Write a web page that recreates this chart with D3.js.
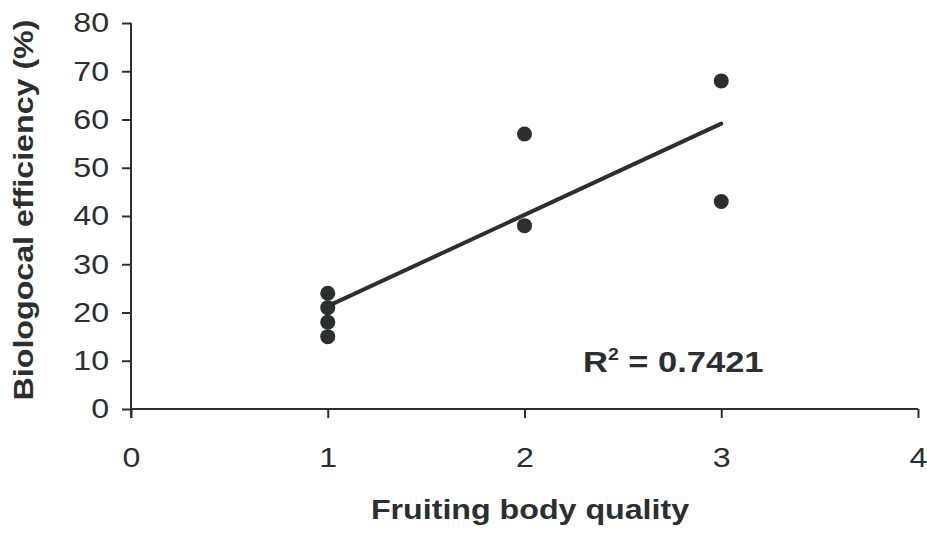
<!DOCTYPE html>
<html>
<head>
<meta charset="utf-8">
<script src="https://cdn.jsdelivr.net/npm/d3@7"></script>
<style>
  body { margin: 0; background: #fff; }
  text { font-family: "Liberation Sans", Arial, sans-serif; fill: #2b2f2f; }
</style>
</head>
<body>
<svg id="chart" width="927" height="534"></svg>
<script>
// data
const quality = [1, 1, 1, 1, 2, 2, 3, 3];
const efficiency = [24, 21, 18, 15, 57, 38, 68, 43];
const xTicks = [0, 1, 2, 3, 4];
const yTicks = [0, 10, 20, 30, 40, 50, 60, 70, 80];

const ink = "#2b2f2f";
const stretch = 1.15; // the scanned font is a bit wider than Liberation
const svg = d3.select("#chart");

const x = d3.scaleLinear().domain([0, 4]).range([131, 918]);
const y = d3.scaleLinear().domain([0, 80]).range([409, 23]);

// axes
const xAxis = svg.append("g")
  .attr("transform", `translate(0,${y(0)})`)
  .call(d3.axisBottom(x).tickValues(xTicks).tickSize(9).tickPadding(29).tickFormat(d3.format("d")));
const yAxis = svg.append("g")
  .attr("transform", `translate(${x(0)},0)`)
  .call(d3.axisLeft(y).tickValues(yTicks).tickSize(9).tickPadding(10).tickFormat(d3.format("d")));

[xAxis, yAxis].forEach(g => {
  g.select(".domain").attr("stroke", ink).attr("stroke-width", 2);
  g.selectAll(".tick line").attr("stroke", ink).attr("stroke-width", 2);
  g.selectAll(".tick text")
    .attr("font-size", 28)
    .attr("transform", `scale(${stretch},1)`)
    .style("fill", ink);
});
xAxis.select(".domain").attr("d", `M${x(0)},0H${x(4)}`);
yAxis.select(".domain").attr("d", `M0,${y(0) + 9}V${y(80)}`);

// least squares line
const mx = d3.mean(quality), my = d3.mean(efficiency);
let sxx = 0, sxy = 0;
quality.forEach((q, i) => { sxx += (q - mx) ** 2; sxy += (q - mx) * (efficiency[i] - my); });
const slope = sxy / sxx, icpt = my - slope * mx;
const sst = d3.sum(efficiency, v => (v - my) ** 2);
const r2 = slope * sxy / sst;

svg.append("line")
  .attr("x1", x(1)).attr("y1", y(icpt + slope * 1))
  .attr("x2", x(3)).attr("y2", y(icpt + slope * 3))
  .attr("stroke", ink).attr("stroke-width", 4).attr("stroke-linecap", "round");

// points
svg.selectAll(".dot")
  .data(quality.map((q, i) => ({ q, v: efficiency[i] })))
  .enter()
  .append("circle")
  .attr("class", "dot")
  .attr("cx", d => x(d.q))
  .attr("cy", d => y(d.v))
  .attr("r", 7.5)
  .attr("fill", ink);

// R2 label
const r2t = svg.append("text")
  .attr("transform", `translate(583,372) scale(${stretch},1)`)
  .attr("font-size", 30).attr("font-weight", "bold");
r2t.append("tspan").text("R");
r2t.append("tspan").attr("dy", -12).attr("font-size", 17).text("2");
r2t.append("tspan").attr("dy", 12).text(" = " + r2.toFixed(4));

// axis titles
svg.append("text")
  .attr("transform", `translate(530,519) scale(${stretch},1)`)
  .attr("text-anchor", "middle")
  .attr("font-size", 28).attr("font-weight", "bold")
  .text("Fruiting body quality");

svg.append("text")
  .attr("transform", `translate(33,210) rotate(-90) scale(${stretch},1)`)
  .attr("text-anchor", "middle")
  .attr("font-size", 28).attr("font-weight", "bold")
  .text("Biologocal efficiency (%)");
</script>
</body>
</html>
